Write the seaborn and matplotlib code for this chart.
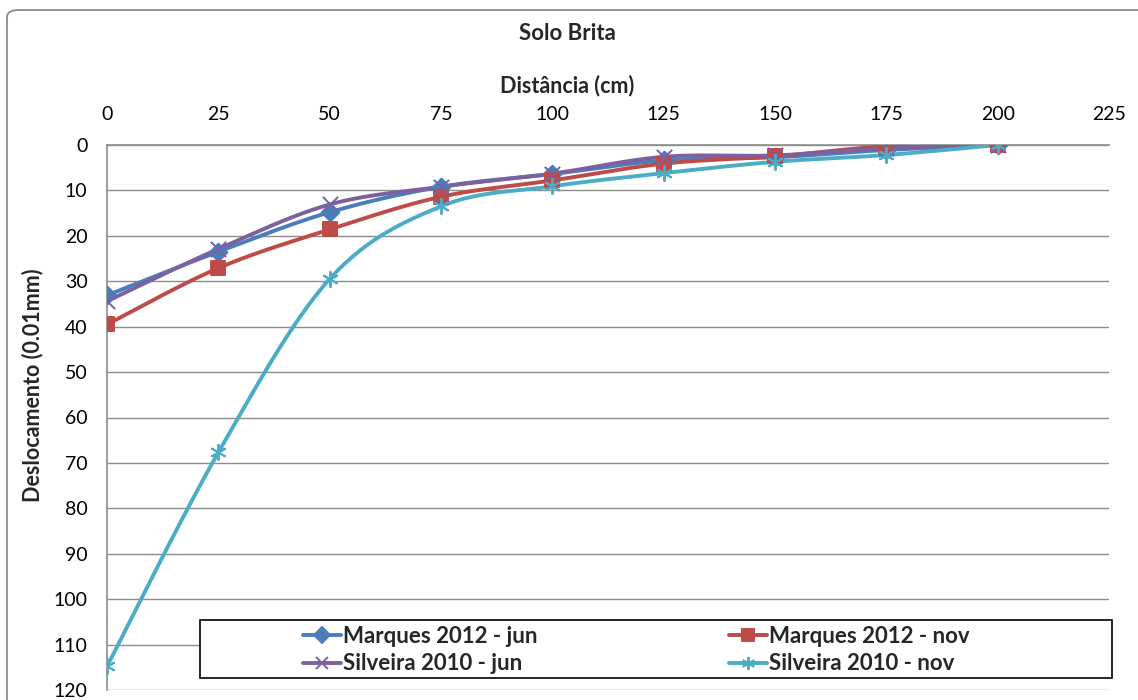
import numpy as np
import pandas as pd
import matplotlib
matplotlib.use("Agg")
import matplotlib.pyplot as plt
from matplotlib.lines import Line2D
from matplotlib.patches import FancyBboxPatch, Rectangle
import seaborn as sns

# Distance from the load point (cm) and measured displacement (0.01 mm)
distancia = [0, 25, 50, 75, 100, 125, 150, 175, 200]
marques_jun = [33.1, 23.5, 14.8, 9.2, 6.4, 3.4, 2.7, 1.1, 0.0]
marques_nov = [39.5, 27.1, 18.6, 11.4, 7.8, 4.1, 2.5, 0.3, 0.0]
silveira_jun = [34.4, 22.9, 13.1, 9.2, 6.3, 2.6, 2.3, 0.7, 0.0]
silveira_nov = [114.8, 67.7, 29.5, 13.5, 9.1, 6.2, 3.7, 2.2, 0.0]

series_names = ["Marques 2012 - jun", "Marques 2012 - nov",
                "Silveira 2010 - jun", "Silveira 2010 - nov"]
series_values = [marques_jun, marques_nov, silveira_jun, silveira_nov]
colors = ["#4A7EBB", "#BE4B48", "#7D60A0", "#4BACC6"]
markers = ["D", "s", "x", (6, 2, 0)]
marker_sizes = [9, 10, 11, 11]

x_ticks = list(range(0, 226, 25))
y_ticks = list(range(0, 121, 10))


def smooth_curve(x, y, n=30, tension=1 / 6):
    """Cardinal (Catmull-Rom style) Bezier smoothing through every point."""
    x = np.asarray(x, float)
    y = np.asarray(y, float)
    px, py = [], []
    for i in range(len(x) - 1):
        x0, y0 = (x[i - 1], y[i - 1]) if i > 0 else (x[i], y[i])
        x1, y1 = x[i], y[i]
        x2, y2 = x[i + 1], y[i + 1]
        x3, y3 = (x[i + 2], y[i + 2]) if i + 2 < len(x) else (x[i + 1], y[i + 1])
        c1x, c1y = x1 + (x2 - x0) * tension, y1 + (y2 - y0) * tension
        c2x, c2y = x2 - (x3 - x1) * tension, y2 - (y3 - y1) * tension
        t = np.linspace(0, 1, n, endpoint=(i == len(x) - 2))
        b0, b1, b2, b3 = (1 - t) ** 3, 3 * t * (1 - t) ** 2, 3 * t ** 2 * (1 - t), t ** 3
        px.append(b0 * x1 + b1 * c1x + b2 * c2x + b3 * x2)
        py.append(b0 * y1 + b1 * c1y + b2 * c2y + b3 * y2)
    return np.concatenate(px), np.concatenate(py)


sns.set_theme(style="white")
plt.rcParams["font.family"] = ["Lato", "DejaVu Sans"]

W, H = 1138, 700
fig = plt.figure(figsize=(W / 100, H / 100), dpi=100)
ax = fig.add_axes([107 / W, 1 - 690 / H, (1109 - 107) / W, (690 - 145) / H])

# outer chart border
fig.patches.append(FancyBboxPatch((7 / W, -0.05), 1.05, 1.05 - 10 / H,
                                  boxstyle="round,pad=0,rounding_size=0.01",
                                  transform=fig.transFigure, fill=False,
                                  edgecolor="#8C8C8C", linewidth=1.3, zorder=0))

handles = []
for name, vals, col, mk, ms in zip(series_names, series_values, colors, markers, marker_sizes):
    sx, sy = smooth_curve(distancia, vals)
    sns.lineplot(x=sx, y=sy, ax=ax, color=col, linewidth=2.8, sort=False,
                 estimator=None, legend=False, zorder=3)
    sns.scatterplot(x=distancia, y=vals, ax=ax, color=col, marker=mk, s=ms ** 2,
                    edgecolor=col if mk in ("D", "s") else None,
                    linewidth=1.4, legend=False, zorder=4)
    handles.append(Line2D([], [], color=col, marker=mk, markersize=ms * 0.85,
                          linewidth=2.8, markeredgewidth=1.4, markeredgecolor=col))

ax.set_xlim(0, 225)
ax.set_ylim(120, 0)
ax.set_xticks(x_ticks)
ax.set_yticks(y_ticks)
ax.xaxis.tick_top()
ax.tick_params(axis="both", labelsize=14, colors="black", length=0)
ax.tick_params(axis="y", pad=14)
ax.tick_params(axis="x", pad=16)
ax.set_xlabel("")
ax.set_ylabel("")

ax.yaxis.grid(True, color="#8C8C8C", linewidth=1.0)
ax.xaxis.grid(False)
ax.set_axisbelow(True)
for side in ("right", "bottom"):
    ax.spines[side].set_visible(False)
for side in ("left", "top"):
    ax.spines[side].set_color("#8C8C8C")
    ax.spines[side].set_linewidth(1.2)

fig.text(567 / W, 1 - 33 / H, "Solo Brita", ha="center", va="center",
         fontsize=16, fontweight="bold")
fig.text(567 / W, 1 - 86 / H, "Distância (cm)", ha="center", va="center",
         fontsize=15.5, fontweight="bold")
fig.text(33 / W, 1 - 385 / H, "Deslocamento (0.01mm)", ha="center", va="center",
         rotation=90, fontsize=15.5, fontweight="bold")

# legend box
fig.patches.append(Rectangle((200 / W, 1 - 678 / H), (1112 - 200) / W, 58 / H,
                             transform=fig.transFigure, facecolor="white",
                             edgecolor="black", linewidth=1.2, zorder=9))
order = [0, 2, 1, 3]
leg = fig.legend([handles[i] for i in order], [series_names[i] for i in order],
                 ncol=2, loc="center left",
                 bbox_to_anchor=(292 / W, 1 - 650 / H),
                 frameon=False, handlelength=1.7, handletextpad=0.1,
                 columnspacing=8.6, borderpad=0.0, labelspacing=0.3,
                 prop={"size": 16, "weight": "bold"})
leg.set_zorder(10)

fig.savefig("out.png", dpi=100)
